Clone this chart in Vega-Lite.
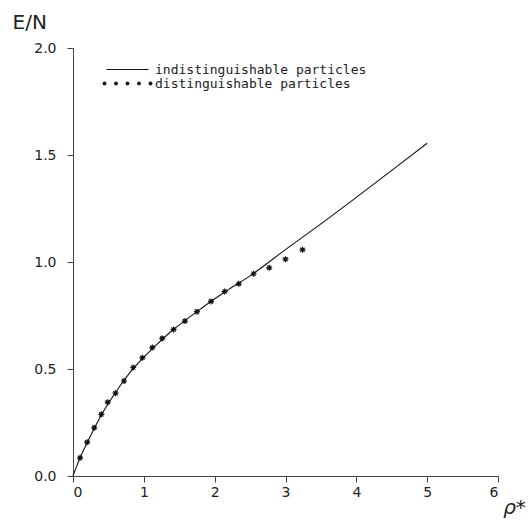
{
  "$schema": "https://vega.github.io/schema/vega-lite/v6.json",
  "autosize": "none",
  "width": 425,
  "height": 428,
  "padding": {"left": 73, "top": 48, "right": 32, "bottom": 47},
  "background": "white",
  "config": {
    "view": {"stroke": null},
    "font": "DejaVu Sans",
    "axis": {
      "grid": false,
      "domainColor": "#444",
      "tickColor": "#444",
      "labelColor": "#222",
      "titleColor": "#222",
      "labelFont": "DejaVu Sans",
      "titleFont": "DejaVu Sans",
      "labelFontSize": 14,
      "tickSize": 6,
      "titleFontWeight": "normal"
    }
  },
  "datasets": {
    "curve": [
      {"rho": 0, "en": 0},
      {"rho": 0.02, "en": 0.018},
      {"rho": 0.05, "en": 0.044},
      {"rho": 0.1, "en": 0.085},
      {"rho": 0.2, "en": 0.156},
      {"rho": 0.3, "en": 0.222},
      {"rho": 0.4, "en": 0.285},
      {"rho": 0.5, "en": 0.340},
      {"rho": 0.6, "en": 0.390},
      {"rho": 0.7, "en": 0.438},
      {"rho": 0.8, "en": 0.482},
      {"rho": 1.0, "en": 0.555},
      {"rho": 1.2, "en": 0.620},
      {"rho": 1.4, "en": 0.680},
      {"rho": 1.6, "en": 0.731},
      {"rho": 1.8, "en": 0.780},
      {"rho": 2.0, "en": 0.828},
      {"rho": 2.2, "en": 0.872},
      {"rho": 2.5, "en": 0.935},
      {"rho": 3.0, "en": 1.058},
      {"rho": 3.5, "en": 1.178},
      {"rho": 4.0, "en": 1.302},
      {"rho": 4.5, "en": 1.428},
      {"rho": 5.0, "en": 1.555}
    ],
    "stars": [
      {"rho": 0.10, "en": 0.085},
      {"rho": 0.20, "en": 0.158},
      {"rho": 0.30, "en": 0.225},
      {"rho": 0.40, "en": 0.288},
      {"rho": 0.49, "en": 0.345},
      {"rho": 0.60, "en": 0.387},
      {"rho": 0.72, "en": 0.444},
      {"rho": 0.85, "en": 0.507},
      {"rho": 0.98, "en": 0.553},
      {"rho": 1.12, "en": 0.600},
      {"rho": 1.26, "en": 0.643},
      {"rho": 1.42, "en": 0.685},
      {"rho": 1.58, "en": 0.724},
      {"rho": 1.75, "en": 0.768},
      {"rho": 1.95, "en": 0.816},
      {"rho": 2.14, "en": 0.862},
      {"rho": 2.34, "en": 0.898},
      {"rho": 2.55, "en": 0.945},
      {"rho": 2.77, "en": 0.973},
      {"rho": 3.00, "en": 1.013},
      {"rho": 3.24, "en": 1.057}
    ]
  },
  "encoding": {
    "x": {
      "field": "rho", "type": "quantitative",
      "scale": {"domain": [0, 6], "nice": false, "zero": false},
      "axis": {
        "values": [0, 1, 2, 3, 4, 5, 6],
        "format": "d",
        "labelPadding": 3,
        "title": "ρ*",
        "titleFontSize": 20,
        "titleFontStyle": "italic",
        "titleX": 441,
        "titleY": 37,
        "titleAlign": "center",
        "titleBaseline": "alphabetic"
      }
    },
    "y": {
      "field": "en", "type": "quantitative",
      "scale": {"domain": [0, 2], "nice": false, "zero": false},
      "axis": {
        "values": [0, 0.5, 1, 1.5, 2],
        "format": ".1f",
        "labelPadding": 11,
        "title": "E/N",
        "titleFontSize": 20,
        "titleAngle": 0,
        "titleX": -61,
        "titleY": -20,
        "titleAlign": "left",
        "titleBaseline": "alphabetic"
      }
    }
  },
  "layer": [
    {
      "data": {"name": "curve"},
      "mark": {"type": "line", "strokeWidth": 1.1, "interpolate": "monotone"},
      "encoding": {
        "color": {
          "datum": "indistinguishable particles",
          "scale": {"domain": ["indistinguishable particles", "distinguishable particles"], "range": ["#111", "#111"]},
          "legend": {
            "orient": "none",
            "legendX": 48,
            "legendY": 15,
            "title": null,
            "padding": 0,
            "symbolSize": 16,
            "symbolOffset": 0,
            "labelOffset": 21,
            "labelFontSize": 13,
            "labelFont": "DejaVu Sans Mono",
            "labelColor": "#222",
            "labelLimit": 400,
            "rowPadding": -10,
            "encode": {
              "symbols": {
                "update": {
                  "shape": {"signal": "datum.value == 'indistinguishable particles' ? 'M-10.5,0L10.5,0' : 'M-12.5,0L-10.5,0M-11.5,-1L-11.5,1M-12.2,-0.7L-10.8,0.7M-12.2,0.7L-10.8,-0.7M-6.75,0L-4.75,0M-5.75,-1L-5.75,1M-6.45,-0.7L-5.05,0.7M-6.45,0.7L-5.05,-0.7M-1,0L1,0M0,-1L0,1M-0.7,-0.7L0.7,0.7M-0.7,0.7L0.7,-0.7M4.75,0L6.75,0M5.75,-1L5.75,1M5.05,-0.7L6.45,0.7M5.05,0.7L6.45,-0.7M10.5,0L12.5,0M11.5,-1L11.5,1M10.8,-0.7L12.2,0.7M10.8,0.7L12.2,-0.7'"},
                  "stroke": {"value": "#111"},
                  "fill": {"value": "transparent"},
                  "strokeWidth": {"signal": "datum.value == 'indistinguishable particles' ? 1 : 1.2"},
                  "strokeDash": {"value": []},
                  "opacity": {"value": 1}
                }
              }
            }
          }
        }
      }
    },
    {
      "data": {"name": "stars"},
      "mark": {
        "type": "point",
        "filled": false,
        "shape": "M-1,0L1,0M0,-1L0,1M-0.7,-0.7L0.7,0.7M-0.7,0.7L0.7,-0.7",
        "size": 36,
        "strokeWidth": 1.2,
        "opacity": 1
      },
      "encoding": {
        "color": {"datum": "distinguishable particles"}
      }
    }
  ]
}
